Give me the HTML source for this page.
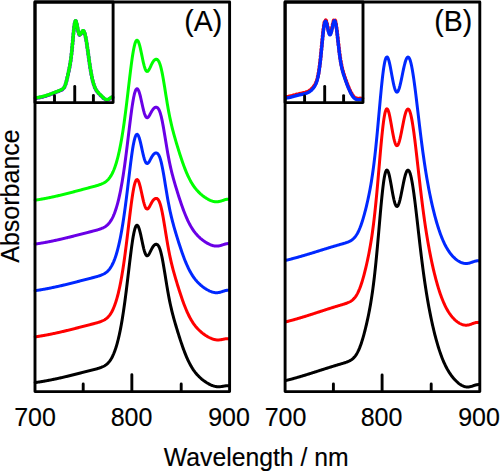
<!DOCTYPE html>
<html><head><meta charset="utf-8"><style>
html,body{margin:0;padding:0;background:#fff;width:500px;height:471px;overflow:hidden}
svg{display:block}
text{font-family:"Liberation Sans",sans-serif;fill:#000;stroke:#000;stroke-width:0.15px}
</style></head><body>
<svg width="500" height="471" viewBox="0 0 500 471">
<rect x="0" y="0" width="500" height="471" fill="#fff"/>
<g fill="none" stroke-linejoin="round" stroke-linecap="round" stroke-width="3.0">
<path d="M35.20,382.57L35.70,382.50L36.20,382.43L36.70,382.36L37.20,382.28L37.70,382.21L38.20,382.13L38.70,382.06L39.20,381.98L39.70,381.90L40.20,381.82L40.70,381.74L41.20,381.66L41.70,381.58L42.20,381.50L42.70,381.41L43.20,381.33L43.70,381.24L44.20,381.16L44.70,381.07L45.20,380.98L45.70,380.89L46.20,380.80L46.70,380.71L47.20,380.62L47.70,380.52L48.20,380.43L48.70,380.34L49.20,380.24L49.70,380.14L50.20,380.05L50.70,379.95L51.20,379.85L51.70,379.75L52.20,379.65L52.70,379.55L53.20,379.44L53.70,379.34L54.20,379.24L54.70,379.13L55.20,379.03L55.70,378.92L56.20,378.81L56.70,378.71L57.20,378.60L57.70,378.49L58.20,378.38L58.70,378.27L59.20,378.16L59.70,378.05L60.20,377.93L60.70,377.82L61.20,377.71L61.70,377.59L62.20,377.48L62.70,377.36L63.20,377.25L63.70,377.13L64.20,377.01L64.70,376.90L65.20,376.78L65.70,376.66L66.20,376.54L66.70,376.42L67.20,376.30L67.70,376.18L68.20,376.06L68.70,375.94L69.20,375.81L69.70,375.69L70.20,375.57L70.70,375.45L71.20,375.32L71.70,375.20L72.20,375.07L72.70,374.95L73.20,374.82L73.70,374.70L74.20,374.57L74.70,374.45L75.20,374.32L75.70,374.20L76.20,374.07L76.70,373.94L77.20,373.82L77.70,373.69L78.20,373.56L78.70,373.44L79.20,373.31L79.70,373.18L80.20,373.06L80.70,372.93L81.20,372.80L81.70,372.67L82.20,372.55L82.70,372.42L83.20,372.29L83.70,372.16L84.20,372.04L84.70,371.91L85.20,371.78L85.70,371.66L86.20,371.53L86.70,371.40L87.20,371.28L87.70,371.15L88.20,371.02L88.70,370.90L89.20,370.77L89.70,370.64L90.20,370.52L90.70,370.39L91.20,370.26L91.70,370.14L92.20,370.01L92.70,369.88L93.20,369.76L93.70,369.63L94.20,369.50L94.70,369.37L95.20,369.23L95.70,369.10L96.20,368.97L96.70,368.83L97.20,368.69L97.70,368.54L98.20,368.39L98.70,368.24L99.20,368.08L99.70,367.92L100.20,367.75L100.70,367.57L101.20,367.38L101.70,367.18L102.20,366.97L102.70,366.75L103.20,366.51L103.70,366.25L104.20,365.98L104.70,365.68L105.20,365.36L105.70,365.02L106.20,364.65L106.70,364.25L107.20,363.81L107.70,363.34L108.20,362.83L108.70,362.28L109.20,361.69L109.70,361.04L110.20,360.35L110.70,359.60L111.20,358.79L111.70,357.92L112.20,356.99L112.70,355.99L113.20,354.91L113.70,353.77L114.20,352.54L114.70,351.23L115.20,349.84L115.70,348.36L116.20,346.79L116.70,345.12L117.20,343.35L117.70,341.48L118.20,339.50L118.70,337.41L119.20,335.21L119.70,332.89L120.20,330.45L120.70,327.89L121.20,325.20L121.70,322.38L122.20,319.43L122.70,316.35L123.20,313.13L123.70,309.78L124.20,306.30L124.70,302.70L125.20,298.97L125.70,295.13L126.20,291.19L126.70,287.16L127.20,283.05L127.70,278.88L128.20,274.68L128.70,270.46L129.20,266.25L129.70,262.07L130.20,257.97L130.70,253.96L131.20,250.09L131.70,246.38L132.20,242.87L132.70,239.60L133.20,236.60L133.70,233.90L134.20,231.53L134.70,229.51L135.20,227.86L135.70,226.61L136.20,225.75L136.70,225.31L137.20,225.27L137.70,225.62L138.20,226.36L138.70,227.45L139.20,228.88L139.70,230.59L140.20,232.55L140.70,234.71L141.20,237.00L141.70,239.38L142.20,241.79L142.70,244.15L143.20,246.41L143.70,248.52L144.20,250.43L144.70,252.08L145.20,253.45L145.70,254.51L146.20,255.26L146.70,255.68L147.20,255.80L147.70,255.64L148.20,255.22L148.70,254.59L149.20,253.80L149.70,252.88L150.20,251.89L150.70,250.86L151.20,249.84L151.70,248.86L152.20,247.95L152.70,247.11L153.20,246.38L153.70,245.74L154.20,245.21L154.70,244.80L155.20,244.49L155.70,244.31L156.20,244.25L156.70,244.32L157.20,244.55L157.70,244.94L158.20,245.51L158.70,246.28L159.20,247.27L159.70,248.48L160.20,249.94L160.70,251.64L161.20,253.58L161.70,255.76L162.20,258.15L162.70,260.74L163.20,263.49L163.70,266.39L164.20,269.39L164.70,272.47L165.20,275.58L165.70,278.71L166.20,281.81L166.70,284.87L167.20,287.86L167.70,290.76L168.20,293.57L168.70,296.27L169.20,298.87L169.70,301.35L170.20,303.73L170.70,306.01L171.20,308.20L171.70,310.30L172.20,312.32L172.70,314.28L173.20,316.17L173.70,318.02L174.20,319.83L174.70,321.59L175.20,323.33L175.70,325.04L176.20,326.73L176.70,328.40L177.20,330.05L177.70,331.69L178.20,333.30L178.70,334.90L179.20,336.49L179.70,338.05L180.20,339.60L180.70,341.12L181.20,342.62L181.70,344.10L182.20,345.55L182.70,346.98L183.20,348.37L183.70,349.74L184.20,351.08L184.70,352.39L185.20,353.66L185.70,354.90L186.20,356.11L186.70,357.29L187.20,358.43L187.70,359.54L188.20,360.61L188.70,361.65L189.20,362.66L189.70,363.63L190.20,364.57L190.70,365.48L191.20,366.36L191.70,367.20L192.20,368.02L192.70,368.81L193.20,369.56L193.70,370.30L194.20,371.00L194.70,371.68L195.20,372.34L195.70,372.97L196.20,373.58L196.70,374.16L197.20,374.73L197.70,375.28L198.20,375.81L198.70,376.32L199.20,376.81L199.70,377.29L200.20,377.75L200.70,378.20L201.20,378.63L201.70,379.06L202.20,379.47L202.70,379.86L203.20,380.25L203.70,380.63L204.20,380.99L204.70,381.35L205.20,381.69L205.70,382.03L206.20,382.36L206.70,382.68L207.20,382.98L207.70,383.28L208.20,383.57L208.70,383.85L209.20,384.12L209.70,384.38L210.20,384.63L210.70,384.86L211.20,385.09L211.70,385.30L212.20,385.50L212.70,385.69L213.20,385.86L213.70,386.02L214.20,386.16L214.70,386.29L215.20,386.40L215.70,386.50L216.20,386.58L216.70,386.65L217.20,386.70L217.70,386.73L218.20,386.75L218.70,386.75L219.20,386.74L219.70,386.71L220.20,386.67L220.70,386.62L221.20,386.56L221.70,386.49L222.20,386.41L222.70,386.33L223.20,386.24L223.70,386.15L224.20,386.07L224.70,385.99L225.20,385.91L225.70,385.85L226.20,385.79L226.70,385.76L227.20,385.74L227.70,385.74L228.20,385.76L228.70,385.81L229.20,385.89" stroke="#000000"/><path d="M35.20,336.87L35.70,336.80L36.20,336.72L36.70,336.65L37.20,336.57L37.70,336.50L38.20,336.42L38.70,336.34L39.20,336.26L39.70,336.18L40.20,336.10L40.70,336.02L41.20,335.94L41.70,335.85L42.20,335.77L42.70,335.68L43.20,335.59L43.70,335.51L44.20,335.42L44.70,335.33L45.20,335.24L45.70,335.14L46.20,335.05L46.70,334.96L47.20,334.86L47.70,334.77L48.20,334.67L48.70,334.58L49.20,334.48L49.70,334.38L50.20,334.28L50.70,334.18L51.20,334.08L51.70,333.98L52.20,333.87L52.70,333.77L53.20,333.66L53.70,333.56L54.20,333.45L54.70,333.35L55.20,333.24L55.70,333.13L56.20,333.02L56.70,332.91L57.20,332.80L57.70,332.69L58.20,332.58L58.70,332.47L59.20,332.35L59.70,332.24L60.20,332.12L60.70,332.01L61.20,331.89L61.70,331.78L62.20,331.66L62.70,331.54L63.20,331.42L63.70,331.31L64.20,331.19L64.70,331.07L65.20,330.95L65.70,330.83L66.20,330.70L66.70,330.58L67.20,330.46L67.70,330.34L68.20,330.21L68.70,330.09L69.20,329.97L69.70,329.84L70.20,329.72L70.70,329.59L71.20,329.47L71.70,329.34L72.20,329.21L72.70,329.09L73.20,328.96L73.70,328.83L74.20,328.71L74.70,328.58L75.20,328.45L75.70,328.32L76.20,328.19L76.70,328.07L77.20,327.94L77.70,327.81L78.20,327.68L78.70,327.55L79.20,327.42L79.70,327.29L80.20,327.16L80.70,327.03L81.20,326.90L81.70,326.77L82.20,326.64L82.70,326.52L83.20,326.39L83.70,326.26L84.20,326.13L84.70,326.00L85.20,325.87L85.70,325.74L86.20,325.61L86.70,325.48L87.20,325.35L87.70,325.22L88.20,325.10L88.70,324.97L89.20,324.84L89.70,324.71L90.20,324.58L90.70,324.45L91.20,324.33L91.70,324.20L92.20,324.07L92.70,323.94L93.20,323.81L93.70,323.68L94.20,323.55L94.70,323.41L95.20,323.28L95.70,323.14L96.20,323.01L96.70,322.87L97.20,322.72L97.70,322.58L98.20,322.43L98.70,322.27L99.20,322.11L99.70,321.95L100.20,321.77L100.70,321.59L101.20,321.40L101.70,321.20L102.20,320.99L102.70,320.76L103.20,320.52L103.70,320.26L104.20,319.99L104.70,319.69L105.20,319.37L105.70,319.03L106.20,318.65L106.70,318.25L107.20,317.82L107.70,317.34L108.20,316.83L108.70,316.28L109.20,315.69L109.70,315.04L110.20,314.35L110.70,313.60L111.20,312.79L111.70,311.92L112.20,310.99L112.70,309.99L113.20,308.92L113.70,307.77L114.20,306.55L114.70,305.25L115.20,303.86L115.70,302.38L116.20,300.81L116.70,299.14L117.20,297.38L117.70,295.51L118.20,293.54L118.70,291.46L119.20,289.26L119.70,286.95L120.20,284.52L120.70,281.96L121.20,279.28L121.70,276.47L122.20,273.53L122.70,270.45L123.20,267.24L123.70,263.91L124.20,260.44L124.70,256.84L125.20,253.13L125.70,249.30L126.20,245.37L126.70,241.35L127.20,237.26L127.70,233.11L128.20,228.91L128.70,224.70L129.20,220.51L129.70,216.35L130.20,212.25L130.70,208.26L131.20,204.40L131.70,200.70L132.20,197.21L132.70,193.95L133.20,190.95L133.70,188.26L134.20,185.89L134.70,183.87L135.20,182.23L135.70,180.97L136.20,180.11L136.70,179.65L137.20,179.60L137.70,179.93L138.20,180.65L138.70,181.71L139.20,183.09L139.70,184.76L140.20,186.67L140.70,188.76L141.20,190.99L141.70,193.29L142.20,195.62L142.70,197.90L143.20,200.07L143.70,202.10L144.20,203.92L144.70,205.50L145.20,206.80L145.70,207.81L146.20,208.51L146.70,208.91L147.20,209.02L147.70,208.86L148.20,208.46L148.70,207.87L149.20,207.12L149.70,206.27L150.20,205.34L150.70,204.39L151.20,203.45L151.70,202.55L152.20,201.70L152.70,200.94L153.20,200.27L153.70,199.69L154.20,199.21L154.70,198.84L155.20,198.57L155.70,198.41L156.20,198.38L156.70,198.47L157.20,198.70L157.70,199.10L158.20,199.68L158.70,200.45L159.20,201.43L159.70,202.65L160.20,204.10L160.70,205.79L161.20,207.73L161.70,209.89L162.20,212.27L162.70,214.85L163.20,217.59L163.70,220.47L164.20,223.46L164.70,226.52L165.20,229.62L165.70,232.73L166.20,235.82L166.70,238.87L167.20,241.84L167.70,244.73L168.20,247.53L168.70,250.22L169.20,252.80L169.70,255.28L170.20,257.64L170.70,259.91L171.20,262.09L171.70,264.18L172.20,266.19L172.70,268.13L173.20,270.02L173.70,271.86L174.20,273.65L174.70,275.41L175.20,277.14L175.70,278.84L176.20,280.52L176.70,282.18L177.20,283.83L177.70,285.45L178.20,287.06L178.70,288.65L179.20,290.23L179.70,291.78L180.20,293.32L180.70,294.83L181.20,296.33L181.70,297.80L182.20,299.24L182.70,300.66L183.20,302.05L183.70,303.41L184.20,304.74L184.70,306.04L185.20,307.31L185.70,308.54L186.20,309.74L186.70,310.91L187.20,312.04L187.70,313.14L188.20,314.21L188.70,315.25L189.20,316.25L189.70,317.21L190.20,318.15L190.70,319.05L191.20,319.92L191.70,320.76L192.20,321.57L192.70,322.35L193.20,323.11L193.70,323.83L194.20,324.53L194.70,325.21L195.20,325.86L195.70,326.48L196.20,327.09L196.70,327.67L197.20,328.23L197.70,328.77L198.20,329.30L198.70,329.80L199.20,330.29L199.70,330.77L200.20,331.23L200.70,331.67L201.20,332.10L201.70,332.52L202.20,332.92L202.70,333.32L203.20,333.70L203.70,334.07L204.20,334.43L204.70,334.78L205.20,335.13L205.70,335.46L206.20,335.78L206.70,336.09L207.20,336.40L207.70,336.69L208.20,336.97L208.70,337.25L209.20,337.51L209.70,337.76L210.20,338.00L210.70,338.23L211.20,338.45L211.70,338.65L212.20,338.85L212.70,339.02L213.20,339.19L213.70,339.34L214.20,339.47L214.70,339.59L215.20,339.69L215.70,339.78L216.20,339.85L216.70,339.90L217.20,339.93L217.70,339.95L218.20,339.95L218.70,339.94L219.20,339.91L219.70,339.87L220.20,339.81L220.70,339.75L221.20,339.67L221.70,339.58L222.20,339.48L222.70,339.38L223.20,339.28L223.70,339.18L224.20,339.08L224.70,338.98L225.20,338.89L225.70,338.81L226.20,338.75L226.70,338.70L227.20,338.67L227.70,338.66L228.20,338.68L228.70,338.72L229.20,338.79" stroke="#ff0000"/><path d="M35.20,290.67L35.70,290.60L36.20,290.52L36.70,290.45L37.20,290.37L37.70,290.30L38.20,290.22L38.70,290.14L39.20,290.06L39.70,289.98L40.20,289.90L40.70,289.81L41.20,289.73L41.70,289.64L42.20,289.56L42.70,289.47L43.20,289.38L43.70,289.29L44.20,289.21L44.70,289.11L45.20,289.02L45.70,288.93L46.20,288.84L46.70,288.74L47.20,288.65L47.70,288.55L48.20,288.46L48.70,288.36L49.20,288.26L49.70,288.16L50.20,288.06L50.70,287.96L51.20,287.86L51.70,287.76L52.20,287.65L52.70,287.55L53.20,287.44L53.70,287.34L54.20,287.23L54.70,287.12L55.20,287.02L55.70,286.91L56.20,286.80L56.70,286.69L57.20,286.58L57.70,286.47L58.20,286.35L58.70,286.24L59.20,286.13L59.70,286.01L60.20,285.90L60.70,285.78L61.20,285.67L61.70,285.55L62.20,285.43L62.70,285.31L63.20,285.20L63.70,285.08L64.20,284.96L64.70,284.84L65.20,284.72L65.70,284.59L66.20,284.47L66.70,284.35L67.20,284.23L67.70,284.10L68.20,283.98L68.70,283.86L69.20,283.73L69.70,283.61L70.20,283.48L70.70,283.36L71.20,283.23L71.70,283.10L72.20,282.98L72.70,282.85L73.20,282.72L73.70,282.60L74.20,282.47L74.70,282.34L75.20,282.21L75.70,282.08L76.20,281.96L76.70,281.83L77.20,281.70L77.70,281.57L78.20,281.44L78.70,281.31L79.20,281.18L79.70,281.05L80.20,280.92L80.70,280.79L81.20,280.66L81.70,280.53L82.20,280.40L82.70,280.27L83.20,280.14L83.70,280.01L84.20,279.89L84.70,279.76L85.20,279.63L85.70,279.50L86.20,279.37L86.70,279.24L87.20,279.11L87.70,278.98L88.20,278.85L88.70,278.72L89.20,278.59L89.70,278.47L90.20,278.34L90.70,278.21L91.20,278.08L91.70,277.95L92.20,277.82L92.70,277.69L93.20,277.56L93.70,277.43L94.20,277.30L94.70,277.16L95.20,277.03L95.70,276.89L96.20,276.76L96.70,276.62L97.20,276.47L97.70,276.33L98.20,276.18L98.70,276.02L99.20,275.86L99.70,275.70L100.20,275.52L100.70,275.34L101.20,275.15L101.70,274.95L102.20,274.74L102.70,274.51L103.20,274.27L103.70,274.02L104.20,273.74L104.70,273.45L105.20,273.13L105.70,272.78L106.20,272.41L106.70,272.01L107.20,271.58L107.70,271.11L108.20,270.60L108.70,270.05L109.20,269.46L109.70,268.82L110.20,268.13L110.70,267.38L111.20,266.58L111.70,265.72L112.20,264.79L112.70,263.80L113.20,262.74L113.70,261.60L114.20,260.38L114.70,259.09L115.20,257.70L115.70,256.24L116.20,254.68L116.70,253.02L117.20,251.27L117.70,249.42L118.20,247.46L118.70,245.39L119.20,243.21L119.70,240.92L120.20,238.50L120.70,235.96L121.20,233.30L121.70,230.51L122.20,227.59L122.70,224.54L123.20,221.35L123.70,218.04L124.20,214.59L124.70,211.03L125.20,207.34L125.70,203.54L126.20,199.64L126.70,195.65L127.20,191.58L127.70,187.46L128.20,183.30L128.70,179.12L129.20,174.95L129.70,170.82L130.20,166.76L130.70,162.80L131.20,158.96L131.70,155.30L132.20,151.83L132.70,148.59L133.20,145.62L133.70,142.94L134.20,140.59L134.70,138.58L135.20,136.95L135.70,135.70L136.20,134.85L136.70,134.39L137.20,134.34L137.70,134.67L138.20,135.38L138.70,136.43L139.20,137.80L139.70,139.45L140.20,141.34L140.70,143.42L141.20,145.63L141.70,147.92L142.20,150.22L142.70,152.48L143.20,154.64L143.70,156.65L144.20,158.46L144.70,160.02L145.20,161.31L145.70,162.31L146.20,163.00L146.70,163.40L147.20,163.51L147.70,163.35L148.20,162.95L148.70,162.37L149.20,161.62L149.70,160.77L150.20,159.85L150.70,158.91L151.20,157.97L151.70,157.07L152.20,156.24L152.70,155.48L153.20,154.81L153.70,154.23L154.20,153.76L154.70,153.39L155.20,153.12L155.70,152.96L156.20,152.92L156.70,153.01L157.20,153.25L157.70,153.64L158.20,154.21L158.70,154.97L159.20,155.95L159.70,157.16L160.20,158.60L160.70,160.27L161.20,162.19L161.70,164.34L162.20,166.70L162.70,169.25L163.20,171.97L163.70,174.83L164.20,177.80L164.70,180.83L165.20,183.91L165.70,187.00L166.20,190.06L166.70,193.08L167.20,196.03L167.70,198.90L168.20,201.67L168.70,204.34L169.20,206.90L169.70,209.36L170.20,211.71L170.70,213.95L171.20,216.11L171.70,218.18L172.20,220.18L172.70,222.11L173.20,223.98L173.70,225.80L174.20,227.58L174.70,229.33L175.20,231.04L175.70,232.73L176.20,234.40L176.70,236.04L177.20,237.67L177.70,239.28L178.20,240.88L178.70,242.46L179.20,244.02L179.70,245.56L180.20,247.08L180.70,248.59L181.20,250.07L181.70,251.52L182.20,252.96L182.70,254.36L183.20,255.74L183.70,257.09L184.20,258.41L184.70,259.69L185.20,260.95L185.70,262.17L186.20,263.37L186.70,264.52L187.20,265.65L187.70,266.74L188.20,267.80L188.70,268.82L189.20,269.81L189.70,270.77L190.20,271.70L190.70,272.59L191.20,273.45L191.70,274.29L192.20,275.09L192.70,275.87L193.20,276.61L193.70,277.33L194.20,278.02L194.70,278.69L195.20,279.34L195.70,279.96L196.20,280.55L196.70,281.13L197.20,281.69L197.70,282.22L198.20,282.74L198.70,283.24L199.20,283.73L199.70,284.20L200.20,284.65L200.70,285.09L201.20,285.51L201.70,285.93L202.20,286.33L202.70,286.71L203.20,287.09L203.70,287.46L204.20,287.81L204.70,288.16L205.20,288.49L205.70,288.82L206.20,289.13L206.70,289.43L207.20,289.73L207.70,290.01L208.20,290.28L208.70,290.54L209.20,290.79L209.70,291.03L210.20,291.25L210.70,291.46L211.20,291.66L211.70,291.84L212.20,292.01L212.70,292.16L213.20,292.30L213.70,292.41L214.20,292.51L214.70,292.59L215.20,292.65L215.70,292.69L216.20,292.72L216.70,292.72L217.20,292.70L217.70,292.66L218.20,292.61L218.70,292.53L219.20,292.44L219.70,292.34L220.20,292.21L220.70,292.08L221.20,291.93L221.70,291.77L222.20,291.61L222.70,291.44L223.20,291.28L223.70,291.11L224.20,290.95L224.70,290.79L225.20,290.65L225.70,290.52L226.20,290.41L226.70,290.32L227.20,290.25L227.70,290.22L228.20,290.21L228.70,290.24L229.20,290.30" stroke="#0028ff"/><path d="M35.20,244.07L35.70,244.00L36.20,243.92L36.70,243.85L37.20,243.77L37.70,243.70L38.20,243.62L38.70,243.54L39.20,243.46L39.70,243.38L40.20,243.30L40.70,243.22L41.20,243.13L41.70,243.05L42.20,242.97L42.70,242.88L43.20,242.79L43.70,242.70L44.20,242.61L44.70,242.53L45.20,242.43L45.70,242.34L46.20,242.25L46.70,242.16L47.20,242.06L47.70,241.97L48.20,241.87L48.70,241.77L49.20,241.68L49.70,241.58L50.20,241.48L50.70,241.38L51.20,241.28L51.70,241.18L52.20,241.07L52.70,240.97L53.20,240.86L53.70,240.76L54.20,240.65L54.70,240.55L55.20,240.44L55.70,240.33L56.20,240.22L56.70,240.11L57.20,240.00L57.70,239.89L58.20,239.78L58.70,239.67L59.20,239.56L59.70,239.44L60.20,239.33L60.70,239.21L61.20,239.10L61.70,238.98L62.20,238.87L62.70,238.75L63.20,238.63L63.70,238.51L64.20,238.39L64.70,238.27L65.20,238.15L65.70,238.03L66.20,237.91L66.70,237.79L67.20,237.67L67.70,237.55L68.20,237.42L68.70,237.30L69.20,237.18L69.70,237.05L70.20,236.93L70.70,236.80L71.20,236.68L71.70,236.55L72.20,236.43L72.70,236.30L73.20,236.18L73.70,236.05L74.20,235.92L74.70,235.80L75.20,235.67L75.70,235.54L76.20,235.41L76.70,235.28L77.20,235.16L77.70,235.03L78.20,234.90L78.70,234.77L79.20,234.64L79.70,234.51L80.20,234.39L80.70,234.26L81.20,234.13L81.70,234.00L82.20,233.87L82.70,233.74L83.20,233.61L83.70,233.48L84.20,233.36L84.70,233.23L85.20,233.10L85.70,232.97L86.20,232.84L86.70,232.71L87.20,232.58L87.70,232.46L88.20,232.33L88.70,232.20L89.20,232.07L89.70,231.94L90.20,231.82L90.70,231.69L91.20,231.56L91.70,231.43L92.20,231.30L92.70,231.17L93.20,231.05L93.70,230.92L94.20,230.78L94.70,230.65L95.20,230.52L95.70,230.38L96.20,230.25L96.70,230.11L97.20,229.97L97.70,229.82L98.20,229.67L98.70,229.52L99.20,229.36L99.70,229.19L100.20,229.02L100.70,228.84L101.20,228.65L101.70,228.45L102.20,228.24L102.70,228.02L103.20,227.78L103.70,227.53L104.20,227.25L104.70,226.96L105.20,226.64L105.70,226.30L106.20,225.93L106.70,225.53L107.20,225.10L107.70,224.64L108.20,224.13L108.70,223.59L109.20,223.00L109.70,222.36L110.20,221.67L110.70,220.93L111.20,220.14L111.70,219.28L112.20,218.36L112.70,217.37L113.20,216.32L113.70,215.18L114.20,213.98L114.70,212.69L115.20,211.32L115.70,209.86L116.20,208.31L116.70,206.67L117.20,204.93L117.70,203.08L118.20,201.14L118.70,199.08L119.20,196.92L119.70,194.64L120.20,192.24L120.70,189.72L121.20,187.07L121.70,184.30L122.20,181.39L122.70,178.36L123.20,175.20L123.70,171.90L124.20,168.48L124.70,164.94L125.20,161.27L125.70,157.50L126.20,153.62L126.70,149.66L127.20,145.62L127.70,141.52L128.20,137.39L128.70,133.24L129.20,129.10L129.70,124.99L130.20,120.96L130.70,117.02L131.20,113.21L131.70,109.56L132.20,106.12L132.70,102.90L133.20,99.95L133.70,97.29L134.20,94.95L134.70,92.96L135.20,91.33L135.70,90.09L136.20,89.25L136.70,88.79L137.20,88.74L137.70,89.07L138.20,89.77L138.70,90.82L139.20,92.18L139.70,93.82L140.20,95.70L140.70,97.77L141.20,99.96L141.70,102.23L142.20,104.52L142.70,106.77L143.20,108.91L143.70,110.91L144.20,112.70L144.70,114.26L145.20,115.54L145.70,116.53L146.20,117.22L146.70,117.61L147.20,117.72L147.70,117.56L148.20,117.17L148.70,116.59L149.20,115.85L149.70,115.01L150.20,114.09L150.70,113.15L151.20,112.22L151.70,111.33L152.20,110.50L152.70,109.74L153.20,109.08L153.70,108.51L154.20,108.04L154.70,107.67L155.20,107.40L155.70,107.24L156.20,107.21L156.70,107.30L157.20,107.53L157.70,107.92L158.20,108.48L158.70,109.24L159.20,110.22L159.70,111.41L160.20,112.84L160.70,114.51L161.20,116.42L161.70,118.55L162.20,120.89L162.70,123.43L163.20,126.13L163.70,128.97L164.20,131.92L164.70,134.94L165.20,138.00L165.70,141.06L166.20,144.11L166.70,147.11L167.20,150.04L167.70,152.89L168.20,155.64L168.70,158.30L169.20,160.84L169.70,163.28L170.20,165.61L170.70,167.85L171.20,169.99L171.70,172.05L172.20,174.03L172.70,175.95L173.20,177.81L173.70,179.62L174.20,181.39L174.70,183.12L175.20,184.82L175.70,186.50L176.20,188.16L176.70,189.79L177.20,191.41L177.70,193.01L178.20,194.60L178.70,196.17L179.20,197.72L179.70,199.25L180.20,200.76L180.70,202.26L181.20,203.73L181.70,205.18L182.20,206.60L182.70,208.00L183.20,209.36L183.70,210.70L184.20,212.01L184.70,213.29L185.20,214.54L185.70,215.76L186.20,216.94L186.70,218.09L187.20,219.21L187.70,220.30L188.20,221.35L188.70,222.36L189.20,223.35L189.70,224.30L190.20,225.22L190.70,226.11L191.20,226.97L191.70,227.80L192.20,228.59L192.70,229.36L193.20,230.10L193.70,230.82L194.20,231.51L194.70,232.17L195.20,232.81L195.70,233.43L196.20,234.02L196.70,234.59L197.20,235.15L197.70,235.68L198.20,236.20L198.70,236.69L199.20,237.17L199.70,237.64L200.20,238.09L200.70,238.53L201.20,238.95L201.70,239.36L202.20,239.76L202.70,240.14L203.20,240.52L203.70,240.88L204.20,241.23L204.70,241.58L205.20,241.91L205.70,242.23L206.20,242.54L206.70,242.84L207.20,243.14L207.70,243.42L208.20,243.69L208.70,243.95L209.20,244.19L209.70,244.43L210.20,244.65L210.70,244.86L211.20,245.06L211.70,245.24L212.20,245.41L212.70,245.56L213.20,245.69L213.70,245.80L214.20,245.90L214.70,245.98L215.20,246.04L215.70,246.08L216.20,246.11L216.70,246.11L217.20,246.09L217.70,246.05L218.20,246.00L218.70,245.93L219.20,245.84L219.70,245.73L220.20,245.61L220.70,245.47L221.20,245.33L221.70,245.17L222.20,245.01L222.70,244.84L223.20,244.68L223.70,244.51L224.20,244.35L224.70,244.19L225.20,244.05L225.70,243.92L226.20,243.81L226.70,243.72L227.20,243.66L227.70,243.62L228.20,243.62L228.70,243.65L229.20,243.71" stroke="#6a00e6"/><path d="M35.20,200.17L35.70,200.09L36.20,200.02L36.70,199.94L37.20,199.86L37.70,199.78L38.20,199.70L38.70,199.62L39.20,199.53L39.70,199.45L40.20,199.36L40.70,199.28L41.20,199.19L41.70,199.10L42.20,199.01L42.70,198.92L43.20,198.83L43.70,198.74L44.20,198.65L44.70,198.56L45.20,198.46L45.70,198.37L46.20,198.27L46.70,198.17L47.20,198.07L47.70,197.97L48.20,197.87L48.70,197.77L49.20,197.67L49.70,197.57L50.20,197.46L50.70,197.36L51.20,197.25L51.70,197.15L52.20,197.04L52.70,196.93L53.20,196.83L53.70,196.72L54.20,196.61L54.70,196.50L55.20,196.38L55.70,196.27L56.20,196.16L56.70,196.04L57.20,195.93L57.70,195.81L58.20,195.70L58.70,195.58L59.20,195.46L59.70,195.35L60.20,195.23L60.70,195.11L61.20,194.99L61.70,194.87L62.20,194.75L62.70,194.62L63.20,194.50L63.70,194.38L64.20,194.26L64.70,194.13L65.20,194.01L65.70,193.88L66.20,193.76L66.70,193.63L67.20,193.50L67.70,193.38L68.20,193.25L68.70,193.12L69.20,192.99L69.70,192.86L70.20,192.73L70.70,192.60L71.20,192.47L71.70,192.34L72.20,192.21L72.70,192.08L73.20,191.95L73.70,191.82L74.20,191.69L74.70,191.56L75.20,191.42L75.70,191.29L76.20,191.16L76.70,191.03L77.20,190.89L77.70,190.76L78.20,190.63L78.70,190.49L79.20,190.36L79.70,190.23L80.20,190.09L80.70,189.96L81.20,189.82L81.70,189.69L82.20,189.56L82.70,189.42L83.20,189.29L83.70,189.15L84.20,189.02L84.70,188.89L85.20,188.75L85.70,188.62L86.20,188.49L86.70,188.35L87.20,188.22L87.70,188.09L88.20,187.95L88.70,187.82L89.20,187.69L89.70,187.56L90.20,187.42L90.70,187.29L91.20,187.16L91.70,187.02L92.20,186.89L92.70,186.76L93.20,186.62L93.70,186.49L94.20,186.35L94.70,186.21L95.20,186.08L95.70,185.94L96.20,185.79L96.70,185.65L97.20,185.50L97.70,185.35L98.20,185.20L98.70,185.04L99.20,184.87L99.70,184.70L100.20,184.52L100.70,184.34L101.20,184.14L101.70,183.94L102.20,183.72L102.70,183.49L103.20,183.24L103.70,182.97L104.20,182.69L104.70,182.39L105.20,182.06L105.70,181.71L106.20,181.33L106.70,180.92L107.20,180.47L107.70,179.99L108.20,179.47L108.70,178.91L109.20,178.30L109.70,177.65L110.20,176.94L110.70,176.18L111.20,175.36L111.70,174.48L112.20,173.53L112.70,172.51L113.20,171.42L113.70,170.26L114.20,169.01L114.70,167.69L115.20,166.28L115.70,164.78L116.20,163.18L116.70,161.49L117.20,159.70L117.70,157.80L118.20,155.80L118.70,153.69L119.20,151.46L119.70,149.11L120.20,146.64L120.70,144.05L121.20,141.33L121.70,138.47L122.20,135.49L122.70,132.37L123.20,129.11L123.70,125.72L124.20,122.21L124.70,118.56L125.20,114.79L125.70,110.91L126.20,106.92L126.70,102.84L127.20,98.69L127.70,94.47L128.20,90.22L128.70,85.95L129.20,81.69L129.70,77.47L130.20,73.32L130.70,69.27L131.20,65.35L131.70,61.60L132.20,58.05L132.70,54.75L133.20,51.71L133.70,48.97L134.20,46.57L134.70,44.53L135.20,42.86L135.70,41.59L136.20,40.73L136.70,40.28L137.20,40.24L137.70,40.60L138.20,41.35L138.70,42.46L139.20,43.91L139.70,45.65L140.20,47.65L140.70,49.84L141.20,52.19L141.70,54.62L142.20,57.07L142.70,59.49L143.20,61.81L143.70,63.97L144.20,65.93L144.70,67.62L145.20,69.03L145.70,70.13L146.20,70.89L146.70,71.33L147.20,71.45L147.70,71.27L148.20,70.83L148.70,70.18L149.20,69.34L149.70,68.38L150.20,67.34L150.70,66.26L151.20,65.19L151.70,64.16L152.20,63.19L152.70,62.31L153.20,61.53L153.70,60.86L154.20,60.29L154.70,59.85L155.20,59.52L155.70,59.31L156.20,59.23L156.70,59.29L157.20,59.50L157.70,59.89L158.20,60.45L158.70,61.22L159.20,62.21L159.70,63.44L160.20,64.90L160.70,66.61L161.20,68.57L161.70,70.76L162.20,73.17L162.70,75.78L163.20,78.56L163.70,81.48L164.20,84.50L164.70,87.61L165.20,90.75L165.70,93.90L166.20,97.03L166.70,100.11L167.20,103.13L167.70,106.06L168.20,108.89L168.70,111.61L169.20,114.23L169.70,116.73L170.20,119.13L170.70,121.43L171.20,123.63L171.70,125.75L172.20,127.79L172.70,129.76L173.20,131.67L173.70,133.53L174.20,135.35L174.70,137.13L175.20,138.88L175.70,140.60L176.20,142.30L176.70,143.98L177.20,145.64L177.70,147.29L178.20,148.92L178.70,150.53L179.20,152.12L179.70,153.70L180.20,155.25L180.70,156.79L181.20,158.30L181.70,159.79L182.20,161.25L182.70,162.68L183.20,164.09L183.70,165.47L184.20,166.81L184.70,168.13L185.20,169.41L185.70,170.66L186.20,171.87L186.70,173.06L187.20,174.20L187.70,175.32L188.20,176.40L188.70,177.44L189.20,178.45L189.70,179.43L190.20,180.38L190.70,181.29L191.20,182.17L191.70,183.02L192.20,183.84L192.70,184.63L193.20,185.39L193.70,186.12L194.20,186.83L194.70,187.51L195.20,188.17L195.70,188.80L196.20,189.41L196.70,190.00L197.20,190.56L197.70,191.11L198.20,191.64L198.70,192.15L199.20,192.64L199.70,193.12L200.20,193.58L200.70,194.03L201.20,194.46L201.70,194.88L202.20,195.29L202.70,195.69L203.20,196.07L203.70,196.44L204.20,196.80L204.70,197.16L205.20,197.50L205.70,197.83L206.20,198.15L206.70,198.45L207.20,198.75L207.70,199.04L208.20,199.32L208.70,199.58L209.20,199.84L209.70,200.08L210.20,200.31L210.70,200.52L211.20,200.72L211.70,200.90L212.20,201.07L212.70,201.23L213.20,201.36L213.70,201.48L214.20,201.58L214.70,201.66L215.20,201.72L215.70,201.76L216.20,201.78L216.70,201.79L217.20,201.77L217.70,201.73L218.20,201.67L218.70,201.59L219.20,201.50L219.70,201.39L220.20,201.26L220.70,201.12L221.20,200.97L221.70,200.81L222.20,200.64L222.70,200.47L223.20,200.29L223.70,200.12L224.20,199.95L224.70,199.80L225.20,199.65L225.70,199.51L226.20,199.40L226.70,199.31L227.20,199.24L227.70,199.20L228.20,199.19L228.70,199.22L229.20,199.28" stroke="#00ff00"/><path d="M285.40,380.65L285.90,380.52L286.40,380.40L286.90,380.27L287.40,380.15L287.90,380.02L288.40,379.89L288.90,379.76L289.40,379.63L289.90,379.50L290.40,379.37L290.90,379.24L291.40,379.10L291.90,378.97L292.40,378.83L292.90,378.70L293.40,378.56L293.90,378.42L294.40,378.28L294.90,378.14L295.40,378.00L295.90,377.86L296.40,377.72L296.90,377.58L297.40,377.43L297.90,377.29L298.40,377.14L298.90,377.00L299.40,376.85L299.90,376.70L300.40,376.56L300.90,376.41L301.40,376.26L301.90,376.11L302.40,375.96L302.90,375.81L303.40,375.66L303.90,375.51L304.40,375.35L304.90,375.20L305.40,375.05L305.90,374.89L306.40,374.74L306.90,374.58L307.40,374.43L307.90,374.27L308.40,374.12L308.90,373.96L309.40,373.80L309.90,373.64L310.40,373.49L310.90,373.33L311.40,373.17L311.90,373.01L312.40,372.85L312.90,372.69L313.40,372.53L313.90,372.37L314.40,372.21L314.90,372.05L315.40,371.89L315.90,371.73L316.40,371.57L316.90,371.41L317.40,371.25L317.90,371.09L318.40,370.93L318.90,370.77L319.40,370.61L319.90,370.44L320.40,370.28L320.90,370.12L321.40,369.96L321.90,369.80L322.40,369.64L322.90,369.48L323.40,369.32L323.90,369.16L324.40,369.00L324.90,368.84L325.40,368.68L325.90,368.52L326.40,368.36L326.90,368.20L327.40,368.04L327.90,367.88L328.40,367.72L328.90,367.56L329.40,367.41L329.90,367.25L330.40,367.09L330.90,366.94L331.40,366.78L331.90,366.63L332.40,366.47L332.90,366.32L333.40,366.16L333.90,366.01L334.40,365.86L334.90,365.70L335.40,365.55L335.90,365.40L336.40,365.25L336.90,365.10L337.40,364.95L337.90,364.80L338.40,364.66L338.90,364.51L339.40,364.36L339.90,364.21L340.40,364.07L340.90,363.92L341.40,363.77L341.90,363.62L342.40,363.47L342.90,363.32L343.40,363.17L343.90,363.02L344.40,362.86L344.90,362.70L345.40,362.54L345.90,362.37L346.40,362.20L346.90,362.01L347.40,361.82L347.90,361.62L348.40,361.41L348.90,361.19L349.40,360.95L349.90,360.69L350.40,360.41L350.90,360.10L351.40,359.78L351.90,359.42L352.40,359.03L352.90,358.61L353.40,358.14L353.90,357.64L354.40,357.09L354.90,356.49L355.40,355.84L355.90,355.13L356.40,354.36L356.90,353.53L357.40,352.63L357.90,351.67L358.40,350.64L358.90,349.53L359.40,348.36L359.90,347.11L360.40,345.79L360.90,344.39L361.40,342.92L361.90,341.38L362.40,339.77L362.90,338.10L363.40,336.35L363.90,334.55L364.40,332.68L364.90,330.75L365.40,328.75L365.90,326.70L366.40,324.58L366.90,322.41L367.40,320.16L367.90,317.84L368.40,315.44L368.90,312.96L369.40,310.38L369.90,307.69L370.40,304.89L370.90,301.95L371.40,298.87L371.90,295.63L372.40,292.21L372.90,288.61L373.40,284.81L373.90,280.80L374.40,276.57L374.90,272.13L375.40,267.47L375.90,262.59L376.40,257.51L376.90,252.25L377.40,246.81L377.90,241.24L378.40,235.57L378.90,229.83L379.40,224.06L379.90,218.33L380.40,212.68L380.90,207.16L381.40,201.84L381.90,196.77L382.40,192.00L382.90,187.60L383.40,183.62L383.90,180.08L384.40,177.05L384.90,174.54L385.40,172.58L385.90,171.17L386.40,170.33L386.90,170.04L387.40,170.28L387.90,171.03L388.40,172.25L388.90,173.89L389.40,175.89L389.90,178.20L390.40,180.75L390.90,183.47L391.40,186.29L391.90,189.14L392.40,191.95L392.90,194.65L393.40,197.19L393.90,199.50L394.40,201.54L394.90,203.27L395.40,204.64L395.90,205.64L396.40,206.25L396.90,206.47L397.40,206.29L397.90,205.72L398.40,204.79L398.90,203.51L399.40,201.93L399.90,200.07L400.40,197.98L400.90,195.70L401.40,193.28L401.90,190.77L402.40,188.23L402.90,185.69L403.40,183.21L403.90,180.84L404.40,178.61L404.90,176.58L405.40,174.77L405.90,173.23L406.40,171.98L406.90,171.04L407.40,170.44L407.90,170.18L408.40,170.29L408.90,170.76L409.40,171.59L409.90,172.78L410.40,174.33L410.90,176.22L411.40,178.44L411.90,180.97L412.40,183.78L412.90,186.87L413.40,190.20L413.90,193.74L414.40,197.48L414.90,201.39L415.40,205.43L415.90,209.60L416.40,213.85L416.90,218.17L417.40,222.54L417.90,226.92L418.40,231.31L418.90,235.69L419.40,240.03L419.90,244.33L420.40,248.58L420.90,252.75L421.40,256.85L421.90,260.86L422.40,264.79L422.90,268.62L423.40,272.35L423.90,275.99L424.40,279.52L424.90,282.96L425.40,286.30L425.90,289.55L426.40,292.70L426.90,295.76L427.40,298.74L427.90,301.62L428.40,304.43L428.90,307.16L429.40,309.81L429.90,312.40L430.40,314.91L430.90,317.35L431.40,319.73L431.90,322.05L432.40,324.31L432.90,326.51L433.40,328.66L433.90,330.75L434.40,332.78L434.90,334.77L435.40,336.70L435.90,338.58L436.40,340.41L436.90,342.19L437.40,343.92L437.90,345.61L438.40,347.25L438.90,348.84L439.40,350.38L439.90,351.88L440.40,353.33L440.90,354.74L441.40,356.10L441.90,357.42L442.40,358.70L442.90,359.94L443.40,361.14L443.90,362.29L444.40,363.41L444.90,364.49L445.40,365.53L445.90,366.54L446.40,367.51L446.90,368.45L447.40,369.36L447.90,370.23L448.40,371.08L448.90,371.89L449.40,372.68L449.90,373.44L450.40,374.18L450.90,374.89L451.40,375.57L451.90,376.24L452.40,376.88L452.90,377.50L453.40,378.10L453.90,378.68L454.40,379.24L454.90,379.78L455.40,380.30L455.90,380.81L456.40,381.30L456.90,381.77L457.40,382.22L457.90,382.65L458.40,383.07L458.90,383.47L459.40,383.85L459.90,384.21L460.40,384.55L460.90,384.88L461.40,385.18L461.90,385.46L462.40,385.72L462.90,385.96L463.40,386.17L463.90,386.36L464.40,386.53L464.90,386.67L465.40,386.79L465.90,386.88L466.40,386.95L466.90,386.99L467.40,387.01L467.90,387.00L468.40,386.97L468.90,386.92L469.40,386.85L469.90,386.75L470.40,386.64L470.90,386.51L471.40,386.37L471.90,386.22L472.40,386.05L472.90,385.88L473.40,385.71L473.90,385.54L474.40,385.37L474.90,385.21L475.40,385.06L475.90,384.93L476.40,384.81L476.90,384.71L477.40,384.64L477.90,384.59L478.40,384.58L478.90,384.60L479.40,384.65" stroke="#000000"/><path d="M285.40,321.95L285.90,321.83L286.40,321.70L286.90,321.57L287.40,321.44L287.90,321.31L288.40,321.18L288.90,321.05L289.40,320.92L289.90,320.79L290.40,320.66L290.90,320.52L291.40,320.39L291.90,320.25L292.40,320.11L292.90,319.97L293.40,319.84L293.90,319.70L294.40,319.55L294.90,319.41L295.40,319.27L295.90,319.13L296.40,318.98L296.90,318.84L297.40,318.70L297.90,318.55L298.40,318.40L298.90,318.26L299.40,318.11L299.90,317.96L300.40,317.81L300.90,317.66L301.40,317.51L301.90,317.36L302.40,317.21L302.90,317.05L303.40,316.90L303.90,316.75L304.40,316.59L304.90,316.44L305.40,316.28L305.90,316.13L306.40,315.97L306.90,315.81L307.40,315.66L307.90,315.50L308.40,315.34L308.90,315.18L309.40,315.02L309.90,314.86L310.40,314.70L310.90,314.54L311.40,314.38L311.90,314.22L312.40,314.06L312.90,313.90L313.40,313.74L313.90,313.58L314.40,313.42L314.90,313.25L315.40,313.09L315.90,312.93L316.40,312.77L316.90,312.60L317.40,312.44L317.90,312.28L318.40,312.11L318.90,311.95L319.40,311.79L319.90,311.62L320.40,311.46L320.90,311.30L321.40,311.14L321.90,310.97L322.40,310.81L322.90,310.65L323.40,310.48L323.90,310.32L324.40,310.16L324.90,310.00L325.40,309.84L325.90,309.67L326.40,309.51L326.90,309.35L327.40,309.19L327.90,309.03L328.40,308.87L328.90,308.71L329.40,308.55L329.90,308.39L330.40,308.23L330.90,308.08L331.40,307.92L331.90,307.76L332.40,307.60L332.90,307.45L333.40,307.29L333.90,307.14L334.40,306.98L334.90,306.83L335.40,306.68L335.90,306.52L336.40,306.37L336.90,306.22L337.40,306.07L337.90,305.92L338.40,305.77L338.90,305.62L339.40,305.47L339.90,305.32L340.40,305.17L340.90,305.02L341.40,304.87L341.90,304.72L342.40,304.57L342.90,304.42L343.40,304.27L343.90,304.11L344.40,303.95L344.90,303.79L345.40,303.63L345.90,303.46L346.40,303.28L346.90,303.10L347.40,302.90L347.90,302.70L348.40,302.49L348.90,302.26L349.40,302.01L349.90,301.75L350.40,301.47L350.90,301.16L351.40,300.83L351.90,300.47L352.40,300.08L352.90,299.65L353.40,299.18L353.90,298.67L354.40,298.11L354.90,297.50L355.40,296.84L355.90,296.13L356.40,295.35L356.90,294.51L357.40,293.60L357.90,292.63L358.40,291.58L358.90,290.47L359.40,289.28L359.90,288.01L360.40,286.67L360.90,285.26L361.40,283.78L361.90,282.22L362.40,280.59L362.90,278.89L363.40,277.13L363.90,275.30L364.40,273.41L364.90,271.45L365.40,269.44L365.90,267.36L366.40,265.22L366.90,263.01L367.40,260.74L367.90,258.39L368.40,255.97L368.90,253.46L369.40,250.84L369.90,248.13L370.40,245.29L370.90,242.32L371.40,239.20L371.90,235.92L372.40,232.46L372.90,228.82L373.40,224.97L373.90,220.91L374.40,216.64L374.90,212.14L375.40,207.42L375.90,202.49L376.40,197.35L376.90,192.02L377.40,186.53L377.90,180.89L378.40,175.15L378.90,169.34L379.40,163.51L379.90,157.70L380.40,151.98L380.90,146.40L381.40,141.01L381.90,135.88L382.40,131.06L382.90,126.61L383.40,122.58L383.90,119.00L384.40,115.93L384.90,113.39L385.40,111.40L385.90,109.98L386.40,109.13L386.90,108.84L387.40,109.08L387.90,109.84L388.40,111.07L388.90,112.73L389.40,114.76L389.90,117.10L390.40,119.67L390.90,122.43L391.40,125.28L391.90,128.16L392.40,131.01L392.90,133.74L393.40,136.31L393.90,138.65L394.40,140.71L394.90,142.46L395.40,143.85L395.90,144.86L396.40,145.48L396.90,145.70L397.40,145.52L397.90,144.94L398.40,144.00L398.90,142.71L399.40,141.11L399.90,139.22L400.40,137.11L400.90,134.80L401.40,132.36L401.90,129.82L402.40,127.24L402.90,124.67L403.40,122.17L403.90,119.76L404.40,117.51L404.90,115.46L405.40,113.63L405.90,112.07L406.40,110.80L406.90,109.85L407.40,109.24L407.90,108.98L408.40,109.09L408.90,109.56L409.40,110.41L409.90,111.62L410.40,113.18L410.90,115.09L411.40,117.34L411.90,119.90L412.40,122.75L412.90,125.87L413.40,129.23L413.90,132.82L414.40,136.61L414.90,140.56L415.40,144.65L415.90,148.87L416.40,153.17L416.90,157.54L417.40,161.96L417.90,166.40L418.40,170.84L418.90,175.27L419.40,179.66L419.90,184.02L420.40,188.31L420.90,192.53L421.40,196.68L421.90,200.74L422.40,204.71L422.90,208.59L423.40,212.36L423.90,216.04L424.40,219.62L424.90,223.10L425.40,226.48L425.90,229.76L426.40,232.95L426.90,236.05L427.40,239.06L427.90,241.98L428.40,244.82L428.90,247.58L429.40,250.26L429.90,252.87L430.40,255.41L430.90,257.89L431.40,260.29L431.90,262.64L432.40,264.92L432.90,267.15L433.40,269.31L433.90,271.42L434.40,273.48L434.90,275.48L435.40,277.43L435.90,279.33L436.40,281.18L436.90,282.97L437.40,284.72L437.90,286.41L438.40,288.06L438.90,289.66L439.40,291.21L439.90,292.72L440.40,294.17L440.90,295.59L441.40,296.95L441.90,298.27L442.40,299.55L442.90,300.78L443.40,301.97L443.90,303.12L444.40,304.23L444.90,305.29L445.40,306.32L445.90,307.31L446.40,308.27L446.90,309.18L447.40,310.06L447.90,310.91L448.40,311.73L448.90,312.51L449.40,313.27L449.90,313.99L450.40,314.68L450.90,315.35L451.40,315.99L451.90,316.61L452.40,317.20L452.90,317.76L453.40,318.31L453.90,318.83L454.40,319.33L454.90,319.80L455.40,320.26L455.90,320.70L456.40,321.11L456.90,321.51L457.40,321.89L457.90,322.25L458.40,322.58L458.90,322.90L459.40,323.20L459.90,323.48L460.40,323.74L460.90,323.98L461.40,324.20L461.90,324.40L462.40,324.57L462.90,324.73L463.40,324.86L463.90,324.97L464.40,325.06L464.90,325.12L465.40,325.17L465.90,325.18L466.40,325.18L466.90,325.15L467.40,325.11L467.90,325.04L468.40,324.95L468.90,324.84L469.40,324.72L469.90,324.58L470.40,324.42L470.90,324.26L471.40,324.08L471.90,323.90L472.40,323.71L472.90,323.53L473.40,323.35L473.90,323.17L474.40,323.00L474.90,322.84L475.40,322.70L475.90,322.58L476.40,322.49L476.90,322.42L477.40,322.38L477.90,322.37L478.40,322.40L478.90,322.47L479.40,322.58" stroke="#ff0000"/><path d="M285.40,260.44L285.90,260.32L286.40,260.20L286.90,260.08L287.40,259.96L287.90,259.84L288.40,259.71L288.90,259.59L289.40,259.46L289.90,259.33L290.40,259.21L290.90,259.08L291.40,258.95L291.90,258.82L292.40,258.69L292.90,258.56L293.40,258.42L293.90,258.29L294.40,258.16L294.90,258.02L295.40,257.89L295.90,257.75L296.40,257.61L296.90,257.47L297.40,257.34L297.90,257.20L298.40,257.06L298.90,256.92L299.40,256.77L299.90,256.63L300.40,256.49L300.90,256.35L301.40,256.20L301.90,256.06L302.40,255.91L302.90,255.77L303.40,255.62L303.90,255.47L304.40,255.33L304.90,255.18L305.40,255.03L305.90,254.88L306.40,254.73L306.90,254.58L307.40,254.43L307.90,254.28L308.40,254.13L308.90,253.98L309.40,253.83L309.90,253.68L310.40,253.52L310.90,253.37L311.40,253.22L311.90,253.06L312.40,252.91L312.90,252.76L313.40,252.60L313.90,252.45L314.40,252.29L314.90,252.14L315.40,251.98L315.90,251.83L316.40,251.67L316.90,251.52L317.40,251.36L317.90,251.21L318.40,251.05L318.90,250.90L319.40,250.74L319.90,250.58L320.40,250.43L320.90,250.27L321.40,250.12L321.90,249.96L322.40,249.81L322.90,249.65L323.40,249.49L323.90,249.34L324.40,249.18L324.90,249.03L325.40,248.87L325.90,248.72L326.40,248.57L326.90,248.41L327.40,248.26L327.90,248.11L328.40,247.95L328.90,247.80L329.40,247.65L329.90,247.50L330.40,247.35L330.90,247.19L331.40,247.04L331.90,246.89L332.40,246.74L332.90,246.60L333.40,246.45L333.90,246.30L334.40,246.15L334.90,246.00L335.40,245.86L335.90,245.71L336.40,245.57L336.90,245.42L337.40,245.28L337.90,245.13L338.40,244.99L338.90,244.85L339.40,244.71L339.90,244.56L340.40,244.42L340.90,244.28L341.40,244.14L341.90,243.99L342.40,243.85L342.90,243.70L343.40,243.56L343.90,243.41L344.40,243.26L344.90,243.10L345.40,242.95L345.90,242.78L346.40,242.61L346.90,242.44L347.40,242.25L347.90,242.06L348.40,241.86L348.90,241.64L349.40,241.41L349.90,241.16L350.40,240.89L350.90,240.59L351.40,240.28L351.90,239.93L352.40,239.56L352.90,239.15L353.40,238.70L353.90,238.21L354.40,237.68L354.90,237.10L355.40,236.47L355.90,235.79L356.40,235.04L356.90,234.24L357.40,233.38L357.90,232.44L358.40,231.45L358.90,230.38L359.40,229.24L359.90,228.04L360.40,226.76L360.90,225.41L361.40,223.99L361.90,222.50L362.40,220.95L362.90,219.33L363.40,217.64L363.90,215.90L364.40,214.09L364.90,212.23L365.40,210.30L365.90,208.32L366.40,206.27L366.90,204.17L367.40,202.00L367.90,199.76L368.40,197.44L368.90,195.04L369.40,192.55L369.90,189.95L370.40,187.24L370.90,184.40L371.40,181.42L371.90,178.29L372.40,174.99L372.90,171.51L373.40,167.84L373.90,163.96L374.40,159.88L374.90,155.59L375.40,151.08L375.90,146.37L376.40,141.47L376.90,136.38L377.40,131.13L377.90,125.75L378.40,120.26L378.90,114.71L379.40,109.15L379.90,103.61L380.40,98.14L380.90,92.81L381.40,87.67L381.90,82.77L382.40,78.17L382.90,73.92L383.40,70.06L383.90,66.65L384.40,63.72L384.90,61.29L385.40,59.40L385.90,58.04L386.40,57.22L386.90,56.94L387.40,57.18L387.90,57.91L388.40,59.08L388.90,60.66L389.40,62.60L389.90,64.83L390.40,67.29L390.90,69.92L391.40,72.65L391.90,75.40L392.40,78.11L392.90,80.73L393.40,83.18L393.90,85.41L394.40,87.38L394.90,89.05L395.40,90.38L395.90,91.35L396.40,91.94L396.90,92.14L397.40,91.97L397.90,91.42L398.40,90.52L398.90,89.29L399.40,87.76L399.90,85.96L400.40,83.94L400.90,81.74L401.40,79.40L401.90,76.98L402.40,74.52L402.90,72.07L403.40,69.67L403.90,67.38L404.40,65.23L404.90,63.26L405.40,61.52L405.90,60.03L406.40,58.82L406.90,57.91L407.40,57.33L407.90,57.08L408.40,57.18L408.90,57.64L409.40,58.44L409.90,59.60L410.40,61.09L410.90,62.92L411.40,65.06L411.90,67.50L412.40,70.22L412.90,73.20L413.40,76.42L413.90,79.85L414.40,83.46L414.90,87.23L415.40,91.14L415.90,95.17L416.40,99.28L416.90,103.45L417.40,107.67L417.90,111.91L418.40,116.15L418.90,120.38L419.40,124.58L419.90,128.73L420.40,132.83L420.90,136.86L421.40,140.82L421.90,144.70L422.40,148.49L422.90,152.19L423.40,155.80L423.90,159.31L424.40,162.73L424.90,166.05L425.40,169.28L425.90,172.42L426.40,175.46L426.90,178.42L427.40,181.29L427.90,184.08L428.40,186.79L428.90,189.43L429.40,191.99L429.90,194.48L430.40,196.91L430.90,199.27L431.40,201.57L431.90,203.81L432.40,205.99L432.90,208.11L433.40,210.18L433.90,212.20L434.40,214.16L434.90,216.07L435.40,217.93L435.90,219.74L436.40,221.51L436.90,223.22L437.40,224.89L437.90,226.51L438.40,228.08L438.90,229.61L439.40,231.09L439.90,232.53L440.40,233.92L440.90,235.27L441.40,236.57L441.90,237.83L442.40,239.05L442.90,240.23L443.40,241.36L443.90,242.46L444.40,243.52L444.90,244.54L445.40,245.52L445.90,246.46L446.40,247.37L446.90,248.25L447.40,249.09L447.90,249.90L448.40,250.68L448.90,251.42L449.40,252.14L449.90,252.83L450.40,253.50L450.90,254.13L451.40,254.74L451.90,255.33L452.40,255.89L452.90,256.43L453.40,256.95L453.90,257.45L454.40,257.92L454.90,258.38L455.40,258.82L455.90,259.23L456.40,259.63L456.90,260.01L457.40,260.37L457.90,260.71L458.40,261.03L458.90,261.33L459.40,261.62L459.90,261.88L460.40,262.13L460.90,262.36L461.40,262.57L461.90,262.75L462.40,262.92L462.90,263.07L463.40,263.19L463.90,263.30L464.40,263.38L464.90,263.44L465.40,263.48L465.90,263.50L466.40,263.49L466.90,263.47L467.40,263.42L467.90,263.36L468.40,263.27L468.90,263.17L469.40,263.05L469.90,262.91L470.40,262.77L470.90,262.61L471.40,262.44L471.90,262.27L472.40,262.09L472.90,261.91L473.40,261.73L473.90,261.57L474.40,261.40L474.90,261.26L475.40,261.12L475.90,261.01L476.40,260.92L476.90,260.85L477.40,260.81L477.90,260.81L478.40,260.84L478.90,260.90L479.40,261.01" stroke="#0028ff"/>
</g>
<rect x="36.4" y="3.4" width="75.3" height="97.2" fill="#fff"/>
<rect x="286.5" y="3.4" width="75.1" height="97.2" fill="#fff"/>
<g fill="none" stroke-linejoin="round" stroke-linecap="round">
<path d="M35.60,98.14L35.85,98.11L36.10,98.08L36.35,98.04L36.60,98.01L36.85,97.98L37.10,97.94L37.35,97.90L37.60,97.86L37.85,97.82L38.10,97.78L38.35,97.74L38.60,97.70L38.85,97.65L39.10,97.61L39.35,97.56L39.60,97.51L39.85,97.46L40.10,97.41L40.35,97.36L40.60,97.31L40.85,97.25L41.10,97.20L41.35,97.14L41.60,97.08L41.85,97.02L42.10,96.96L42.35,96.90L42.60,96.84L42.85,96.78L43.10,96.71L43.35,96.65L43.60,96.58L43.85,96.51L44.10,96.44L44.35,96.37L44.60,96.30L44.85,96.23L45.10,96.16L45.35,96.09L45.60,96.01L45.85,95.94L46.10,95.86L46.35,95.78L46.60,95.70L46.85,95.62L47.10,95.54L47.35,95.46L47.60,95.38L47.85,95.30L48.10,95.21L48.35,95.13L48.60,95.04L48.85,94.96L49.10,94.87L49.35,94.78L49.60,94.69L49.85,94.60L50.10,94.51L50.35,94.42L50.60,94.33L50.85,94.24L51.10,94.15L51.35,94.05L51.60,93.96L51.85,93.86L52.10,93.77L52.35,93.67L52.60,93.58L52.85,93.48L53.10,93.38L53.35,93.29L53.60,93.19L53.85,93.09L54.10,92.99L54.35,92.89L54.60,92.79L54.85,92.69L55.10,92.59L55.35,92.49L55.60,92.39L55.85,92.29L56.10,92.19L56.35,92.09L56.60,91.99L56.85,91.88L57.10,91.78L57.35,91.68L57.60,91.58L57.85,91.48L58.10,91.38L58.35,91.27L58.60,91.17L58.85,91.07L59.10,90.97L59.35,90.86L59.60,90.76L59.85,90.66L60.10,90.55L60.35,90.45L60.60,90.34L60.85,90.23L61.10,90.11L61.35,89.99L61.60,89.87L61.85,89.73L62.10,89.59L62.35,89.43L62.60,89.25L62.85,89.06L63.10,88.84L63.35,88.59L63.60,88.30L63.85,87.98L64.10,87.61L64.35,87.20L64.60,86.72L64.85,86.19L65.10,85.60L65.35,84.94L65.60,84.21L65.85,83.42L66.10,82.57L66.35,81.65L66.60,80.69L66.85,79.67L67.10,78.62L67.35,77.54L67.60,76.43L67.85,75.31L68.10,74.18L68.35,73.04L68.60,71.90L68.85,70.74L69.10,69.56L69.35,68.36L69.60,67.11L69.85,65.80L70.10,64.40L70.35,62.91L70.60,61.29L70.85,59.52L71.10,57.61L71.35,55.53L71.60,53.28L71.85,50.87L72.10,48.33L72.35,45.66L72.60,42.92L72.85,40.13L73.10,37.35L73.35,34.63L73.60,32.03L73.85,29.60L74.10,27.40L74.35,25.47L74.60,23.86L74.85,22.59L75.10,21.68L75.35,21.13L75.60,20.95L75.85,21.11L76.10,21.59L76.35,22.34L76.60,23.31L76.85,24.46L77.10,25.73L77.35,27.06L77.60,28.40L77.85,29.71L78.10,30.93L78.35,32.03L78.60,32.98L78.85,33.77L79.10,34.37L79.35,34.80L79.60,35.04L79.85,35.12L80.10,35.05L80.35,34.84L80.60,34.53L80.85,34.13L81.10,33.68L81.35,33.20L81.60,32.72L81.85,32.25L82.10,31.83L82.35,31.47L82.60,31.19L82.85,31.00L83.10,30.92L83.35,30.96L83.60,31.12L83.85,31.41L84.10,31.83L84.35,32.38L84.60,33.07L84.85,33.88L85.10,34.82L85.35,35.88L85.60,37.05L85.85,38.33L86.10,39.70L86.35,41.16L86.60,42.70L86.85,44.31L87.10,45.97L87.35,47.69L87.60,49.44L87.85,51.22L88.10,53.01L88.35,54.82L88.60,56.63L88.85,58.42L89.10,60.20L89.35,61.95L89.60,63.68L89.85,65.36L90.10,67.00L90.35,68.60L90.60,70.14L90.85,71.63L91.10,73.05L91.35,74.42L91.60,75.73L91.85,76.98L92.10,78.16L92.35,79.29L92.60,80.35L92.85,81.35L93.10,82.30L93.35,83.18L93.60,84.02L93.85,84.80L94.10,85.54L94.35,86.22L94.60,86.87L94.85,87.47L95.10,88.03L95.35,88.56L95.60,89.05L95.85,89.52L96.10,89.96L96.35,90.37L96.60,90.76L96.85,91.13L97.10,91.48L97.35,91.82L97.60,92.14L97.85,92.45L98.10,92.74L98.35,93.03L98.60,93.31L98.85,93.58L99.10,93.85L99.35,94.11L99.60,94.37L99.85,94.62L100.10,94.87L100.35,95.12L100.60,95.37L100.85,95.61L101.10,95.86L101.35,96.10L101.60,96.34L101.85,96.58L102.10,96.82L102.35,97.05L102.60,97.29L102.85,97.52L103.10,97.74L103.35,97.96L103.60,98.18L103.85,98.39L104.10,98.60L104.35,98.79L104.60,98.98L104.85,99.15L105.10,99.31L105.35,99.46L105.60,99.59L105.85,99.70L106.10,99.79L106.35,99.87L106.60,99.92L106.85,99.95L107.10,99.95L107.35,99.93L107.60,99.89L107.85,99.82L108.10,99.73L108.35,99.61L108.60,99.48L108.85,99.32L109.10,99.15L109.35,98.97L109.60,98.78L109.85,98.58L110.10,98.38L110.35,98.19L110.60,98.01L110.85,97.84L111.10,97.69L111.35,97.58L111.60,97.49L111.85,97.44L112.10,97.43L112.35,97.48L112.60,97.57" stroke="#6a00e6" stroke-width="3.9" stroke-dasharray="1.2 2.2"/><path d="M35.60,97.84L35.85,97.81L36.10,97.78L36.35,97.74L36.60,97.71L36.85,97.68L37.10,97.64L37.35,97.60L37.60,97.56L37.85,97.52L38.10,97.48L38.35,97.44L38.60,97.40L38.85,97.35L39.10,97.31L39.35,97.26L39.60,97.21L39.85,97.16L40.10,97.11L40.35,97.06L40.60,97.01L40.85,96.95L41.10,96.90L41.35,96.84L41.60,96.78L41.85,96.72L42.10,96.66L42.35,96.60L42.60,96.54L42.85,96.48L43.10,96.41L43.35,96.35L43.60,96.28L43.85,96.21L44.10,96.14L44.35,96.07L44.60,96.00L44.85,95.93L45.10,95.86L45.35,95.79L45.60,95.71L45.85,95.64L46.10,95.56L46.35,95.48L46.60,95.40L46.85,95.32L47.10,95.24L47.35,95.16L47.60,95.08L47.85,95.00L48.10,94.91L48.35,94.83L48.60,94.74L48.85,94.66L49.10,94.57L49.35,94.48L49.60,94.39L49.85,94.30L50.10,94.21L50.35,94.12L50.60,94.03L50.85,93.94L51.10,93.85L51.35,93.75L51.60,93.66L51.85,93.56L52.10,93.47L52.35,93.37L52.60,93.28L52.85,93.18L53.10,93.08L53.35,92.99L53.60,92.89L53.85,92.79L54.10,92.69L54.35,92.59L54.60,92.49L54.85,92.39L55.10,92.29L55.35,92.19L55.60,92.09L55.85,91.99L56.10,91.89L56.35,91.79L56.60,91.69L56.85,91.58L57.10,91.48L57.35,91.38L57.60,91.28L57.85,91.18L58.10,91.08L58.35,90.97L58.60,90.87L58.85,90.77L59.10,90.67L59.35,90.56L59.60,90.46L59.85,90.36L60.10,90.25L60.35,90.15L60.60,90.04L60.85,89.93L61.10,89.81L61.35,89.69L61.60,89.57L61.85,89.43L62.10,89.29L62.35,89.13L62.60,88.95L62.85,88.76L63.10,88.54L63.35,88.29L63.60,88.00L63.85,87.68L64.10,87.31L64.35,86.90L64.60,86.42L64.85,85.89L65.10,85.30L65.35,84.64L65.60,83.91L65.85,83.12L66.10,82.27L66.35,81.35L66.60,80.39L66.85,79.37L67.10,78.32L67.35,77.24L67.60,76.13L67.85,75.01L68.10,73.88L68.35,72.74L68.60,71.60L68.85,70.44L69.10,69.26L69.35,68.06L69.60,66.81L69.85,65.50L70.10,64.10L70.35,62.61L70.60,60.99L70.85,59.22L71.10,57.31L71.35,55.23L71.60,52.98L71.85,50.57L72.10,48.03L72.35,45.36L72.60,42.62L72.85,39.83L73.10,37.05L73.35,34.33L73.60,31.73L73.85,29.30L74.10,27.10L74.35,25.17L74.60,23.56L74.85,22.29L75.10,21.38L75.35,20.83L75.60,20.65L75.85,20.81L76.10,21.29L76.35,22.04L76.60,23.01L76.85,24.16L77.10,25.43L77.35,26.76L77.60,28.10L77.85,29.41L78.10,30.63L78.35,31.73L78.60,32.68L78.85,33.47L79.10,34.07L79.35,34.50L79.60,34.74L79.85,34.82L80.10,34.75L80.35,34.54L80.60,34.23L80.85,33.83L81.10,33.38L81.35,32.90L81.60,32.42L81.85,31.95L82.10,31.53L82.35,31.17L82.60,30.89L82.85,30.70L83.10,30.62L83.35,30.66L83.60,30.82L83.85,31.11L84.10,31.53L84.35,32.08L84.60,32.77L84.85,33.58L85.10,34.52L85.35,35.58L85.60,36.75L85.85,38.03L86.10,39.40L86.35,40.86L86.60,42.40L86.85,44.01L87.10,45.67L87.35,47.39L87.60,49.14L87.85,50.92L88.10,52.71L88.35,54.52L88.60,56.33L88.85,58.12L89.10,59.90L89.35,61.65L89.60,63.38L89.85,65.06L90.10,66.70L90.35,68.30L90.60,69.84L90.85,71.33L91.10,72.75L91.35,74.12L91.60,75.43L91.85,76.68L92.10,77.86L92.35,78.99L92.60,80.05L92.85,81.05L93.10,82.00L93.35,82.88L93.60,83.72L93.85,84.50L94.10,85.24L94.35,85.92L94.60,86.57L94.85,87.17L95.10,87.73L95.35,88.26L95.60,88.75L95.85,89.22L96.10,89.66L96.35,90.07L96.60,90.46L96.85,90.83L97.10,91.18L97.35,91.52L97.60,91.84L97.85,92.15L98.10,92.44L98.35,92.73L98.60,93.01L98.85,93.28L99.10,93.55L99.35,93.81L99.60,94.07L99.85,94.32L100.10,94.57L100.35,94.82L100.60,95.07L100.85,95.31L101.10,95.56L101.35,95.80L101.60,96.04L101.85,96.28L102.10,96.52L102.35,96.75L102.60,96.99L102.85,97.22L103.10,97.44L103.35,97.66L103.60,97.88L103.85,98.09L104.10,98.30L104.35,98.49L104.60,98.68L104.85,98.85L105.10,99.01L105.35,99.16L105.60,99.29L105.85,99.40L106.10,99.49L106.35,99.57L106.60,99.62L106.85,99.65L107.10,99.65L107.35,99.63L107.60,99.59L107.85,99.52L108.10,99.43L108.35,99.31L108.60,99.18L108.85,99.02L109.10,98.85L109.35,98.67L109.60,98.48L109.85,98.28L110.10,98.08L110.35,97.89L110.60,97.71L110.85,97.54L111.10,97.39L111.35,97.28L111.60,97.19L111.85,97.14L112.10,97.13L112.35,97.18L112.60,97.27" stroke="#00ff00" stroke-width="3.4"/><path d="M285.90,97.03L286.15,97.01L286.40,96.98L286.65,96.96L286.90,96.92L287.15,96.89L287.40,96.85L287.65,96.82L287.90,96.77L288.15,96.73L288.40,96.69L288.65,96.64L288.90,96.59L289.15,96.54L289.40,96.48L289.65,96.43L289.90,96.37L290.15,96.31L290.40,96.25L290.65,96.19L290.90,96.13L291.15,96.06L291.40,96.00L291.65,95.93L291.90,95.86L292.15,95.79L292.40,95.72L292.65,95.66L292.90,95.59L293.15,95.51L293.40,95.44L293.65,95.37L293.90,95.30L294.15,95.23L294.40,95.16L294.65,95.09L294.90,95.02L295.15,94.95L295.40,94.88L295.65,94.82L295.90,94.75L296.15,94.68L296.40,94.61L296.65,94.55L296.90,94.48L297.15,94.42L297.40,94.36L297.65,94.30L297.90,94.24L298.15,94.18L298.40,94.12L298.65,94.06L298.90,94.00L299.15,93.95L299.40,93.89L299.65,93.84L299.90,93.79L300.15,93.73L300.40,93.68L300.65,93.63L300.90,93.58L301.15,93.53L301.40,93.48L301.65,93.43L301.90,93.37L302.15,93.32L302.40,93.27L302.65,93.22L302.90,93.16L303.15,93.11L303.40,93.05L303.65,93.00L303.90,92.94L304.15,92.88L304.40,92.81L304.65,92.75L304.90,92.68L305.15,92.61L305.40,92.54L305.65,92.46L305.90,92.38L306.15,92.29L306.40,92.21L306.65,92.11L306.90,92.01L307.15,91.91L307.40,91.80L307.65,91.69L307.90,91.57L308.15,91.44L308.40,91.31L308.65,91.18L308.90,91.03L309.15,90.88L309.40,90.72L309.65,90.55L309.90,90.38L310.15,90.20L310.40,90.01L310.65,89.81L310.90,89.60L311.15,89.38L311.40,89.16L311.65,88.92L311.90,88.68L312.15,88.42L312.40,88.16L312.65,87.88L312.90,87.59L313.15,87.29L313.40,86.98L313.65,86.65L313.90,86.31L314.15,85.95L314.40,85.57L314.65,85.17L314.90,84.75L315.15,84.30L315.40,83.82L315.65,83.31L315.90,82.77L316.15,82.17L316.40,81.54L316.65,80.84L316.90,80.09L317.15,79.27L317.40,78.37L317.65,77.40L317.90,76.33L318.15,75.16L318.40,73.89L318.65,72.50L318.90,71.00L319.15,69.38L319.40,67.63L319.65,65.76L319.90,63.76L320.15,61.64L320.40,59.40L320.65,57.05L320.90,54.61L321.15,52.09L321.40,49.51L321.65,46.89L321.90,44.25L322.15,41.62L322.40,39.02L322.65,36.49L322.90,34.05L323.15,31.73L323.40,29.57L323.65,27.59L323.90,25.81L324.15,24.25L324.40,22.94L324.65,21.88L324.90,21.08L325.15,20.55L325.40,20.28L325.65,20.26L325.90,20.49L326.15,20.94L326.40,21.60L326.65,22.42L326.90,23.39L327.15,24.47L327.40,25.62L327.65,26.81L327.90,28.00L328.15,29.16L328.40,30.25L328.65,31.24L328.90,32.10L329.15,32.81L329.40,33.35L329.65,33.70L329.90,33.85L330.15,33.80L330.40,33.55L330.65,33.10L330.90,32.47L331.15,31.67L331.40,30.73L331.65,29.68L331.90,28.53L332.15,27.33L332.40,26.12L332.65,24.91L332.90,23.76L333.15,22.69L333.40,21.74L333.65,20.95L333.90,20.33L334.15,19.92L334.40,19.73L334.65,19.77L334.90,20.06L335.15,20.60L335.40,21.38L335.65,22.40L335.90,23.65L336.15,25.11L336.40,26.76L336.65,28.57L336.90,30.53L337.15,32.60L337.40,34.75L337.65,36.97L337.90,39.22L338.15,41.47L338.40,43.72L338.65,45.93L338.90,48.08L339.15,50.18L339.40,52.19L339.65,54.11L339.90,55.94L340.15,57.68L340.40,59.32L340.65,60.86L340.90,62.31L341.15,63.67L341.40,64.94L341.65,66.14L341.90,67.27L342.15,68.33L342.40,69.34L342.65,70.29L342.90,71.20L343.15,72.08L343.40,72.92L343.65,73.73L343.90,74.52L344.15,75.29L344.40,76.05L344.65,76.79L344.90,77.52L345.15,78.23L345.40,78.94L345.65,79.65L345.90,80.34L346.15,81.03L346.40,81.71L346.65,82.39L346.90,83.05L347.15,83.71L347.40,84.37L347.65,85.01L347.90,85.65L348.15,86.27L348.40,86.89L348.65,87.49L348.90,88.09L349.15,88.67L349.40,89.24L349.65,89.80L349.90,90.34L350.15,90.87L350.40,91.38L350.65,91.88L350.90,92.36L351.15,92.82L351.40,93.27L351.65,93.70L351.90,94.12L352.15,94.51L352.40,94.89L352.65,95.24L352.90,95.58L353.15,95.90L353.40,96.21L353.65,96.49L353.90,96.75L354.15,97.00L354.40,97.22L354.65,97.43L354.90,97.62L355.15,97.79L355.40,97.95L355.65,98.09L355.90,98.21L356.15,98.31L356.40,98.41L356.65,98.48L356.90,98.54L357.15,98.59L357.40,98.63L357.65,98.66L357.90,98.67L358.15,98.68L358.40,98.68L358.65,98.67L358.90,98.65L359.15,98.63L359.40,98.61L359.65,98.58L359.90,98.55L360.15,98.52L360.40,98.49L360.65,98.47L360.90,98.44L361.15,98.43L361.40,98.41L361.65,98.41L361.90,98.41L362.15,98.42L362.40,98.44" stroke="#ff0000" stroke-width="3.9" stroke-dasharray="1.2 2.2"/><path d="M285.90,98.03L286.15,98.01L286.40,97.98L286.65,97.96L286.90,97.92L287.15,97.89L287.40,97.85L287.65,97.82L287.90,97.77L288.15,97.73L288.40,97.69L288.65,97.64L288.90,97.59L289.15,97.54L289.40,97.48L289.65,97.43L289.90,97.37L290.15,97.31L290.40,97.25L290.65,97.19L290.90,97.13L291.15,97.06L291.40,97.00L291.65,96.93L291.90,96.86L292.15,96.79L292.40,96.72L292.65,96.66L292.90,96.59L293.15,96.51L293.40,96.44L293.65,96.37L293.90,96.30L294.15,96.23L294.40,96.16L294.65,96.09L294.90,96.02L295.15,95.95L295.40,95.88L295.65,95.82L295.90,95.75L296.15,95.68L296.40,95.61L296.65,95.55L296.90,95.48L297.15,95.42L297.40,95.36L297.65,95.30L297.90,95.24L298.15,95.18L298.40,95.12L298.65,95.06L298.90,95.00L299.15,94.95L299.40,94.89L299.65,94.84L299.90,94.79L300.15,94.73L300.40,94.68L300.65,94.63L300.90,94.58L301.15,94.53L301.40,94.48L301.65,94.43L301.90,94.37L302.15,94.32L302.40,94.27L302.65,94.22L302.90,94.16L303.15,94.11L303.40,94.05L303.65,94.00L303.90,93.94L304.15,93.88L304.40,93.81L304.65,93.75L304.90,93.68L305.15,93.61L305.40,93.54L305.65,93.46L305.90,93.38L306.15,93.29L306.40,93.21L306.65,93.11L306.90,93.01L307.15,92.91L307.40,92.80L307.65,92.69L307.90,92.57L308.15,92.44L308.40,92.31L308.65,92.18L308.90,92.03L309.15,91.88L309.40,91.72L309.65,91.55L309.90,91.38L310.15,91.20L310.40,91.01L310.65,90.81L310.90,90.60L311.15,90.38L311.40,90.16L311.65,89.92L311.90,89.68L312.15,89.42L312.40,89.16L312.65,88.88L312.90,88.59L313.15,88.29L313.40,87.98L313.65,87.65L313.90,87.31L314.15,86.95L314.40,86.57L314.65,86.17L314.90,85.75L315.15,85.30L315.40,84.82L315.65,84.31L315.90,83.77L316.15,83.17L316.40,82.54L316.65,81.84L316.90,81.09L317.15,80.27L317.40,79.37L317.65,78.40L317.90,77.33L318.15,76.16L318.40,74.89L318.65,73.50L318.90,72.00L319.15,70.38L319.40,68.63L319.65,66.76L319.90,64.76L320.15,62.64L320.40,60.40L320.65,58.05L320.90,55.61L321.15,53.09L321.40,50.51L321.65,47.89L321.90,45.25L322.15,42.62L322.40,40.02L322.65,37.49L322.90,35.05L323.15,32.73L323.40,30.57L323.65,28.59L323.90,26.81L324.15,25.25L324.40,23.94L324.65,22.88L324.90,22.08L325.15,21.55L325.40,21.28L325.65,21.26L325.90,21.49L326.15,21.94L326.40,22.60L326.65,23.42L326.90,24.39L327.15,25.47L327.40,26.62L327.65,27.81L327.90,29.00L328.15,30.16L328.40,31.25L328.65,32.24L328.90,33.10L329.15,33.81L329.40,34.35L329.65,34.70L329.90,34.85L330.15,34.80L330.40,34.55L330.65,34.10L330.90,33.47L331.15,32.67L331.40,31.73L331.65,30.68L331.90,29.53L332.15,28.33L332.40,27.12L332.65,25.91L332.90,24.76L333.15,23.69L333.40,22.74L333.65,21.95L333.90,21.33L334.15,20.92L334.40,20.73L334.65,20.77L334.90,21.06L335.15,21.60L335.40,22.38L335.65,23.40L335.90,24.65L336.15,26.11L336.40,27.76L336.65,29.57L336.90,31.53L337.15,33.60L337.40,35.75L337.65,37.97L337.90,40.22L338.15,42.47L338.40,44.72L338.65,46.93L338.90,49.08L339.15,51.18L339.40,53.19L339.65,55.11L339.90,56.94L340.15,58.68L340.40,60.32L340.65,61.86L340.90,63.31L341.15,64.67L341.40,65.94L341.65,67.14L341.90,68.27L342.15,69.33L342.40,70.34L342.65,71.29L342.90,72.20L343.15,73.08L343.40,73.92L343.65,74.73L343.90,75.52L344.15,76.29L344.40,77.05L344.65,77.79L344.90,78.52L345.15,79.23L345.40,79.94L345.65,80.65L345.90,81.34L346.15,82.03L346.40,82.71L346.65,83.39L346.90,84.05L347.15,84.71L347.40,85.37L347.65,86.01L347.90,86.65L348.15,87.27L348.40,87.89L348.65,88.49L348.90,89.09L349.15,89.67L349.40,90.24L349.65,90.80L349.90,91.34L350.15,91.87L350.40,92.38L350.65,92.88L350.90,93.36L351.15,93.82L351.40,94.27L351.65,94.70L351.90,95.12L352.15,95.51L352.40,95.89L352.65,96.24L352.90,96.58L353.15,96.90L353.40,97.21L353.65,97.49L353.90,97.75L354.15,98.00L354.40,98.22L354.65,98.43L354.90,98.62L355.15,98.79L355.40,98.95L355.65,99.09L355.90,99.21L356.15,99.31L356.40,99.41L356.65,99.48L356.90,99.54L357.15,99.59L357.40,99.63L357.65,99.66L357.90,99.67L358.15,99.68L358.40,99.68L358.65,99.67L358.90,99.65L359.15,99.63L359.40,99.61L359.65,99.58L359.90,99.55L360.15,99.52L360.40,99.49L360.65,99.47L360.90,99.44L361.15,99.43L361.40,99.41L361.65,99.41L361.90,99.41L362.15,99.42L362.40,99.44" stroke="#0028ff" stroke-width="3.4"/>
</g>
<g fill="none" stroke="#000" stroke-width="2.9" stroke-linejoin="round" stroke-linecap="round">
<path d="M83.20,391.60 V384.00" /><path d="M131.85,391.60 V374.80" /><path d="M181.20,391.60 V384.00" /><path d="M333.40,391.60 V384.00" /><path d="M382.10,391.60 V374.90" /><path d="M431.20,391.60 V384.00" /><path d="M54.50,102.60 V95.80" /><path d="M74.75,102.60 V86.40" /><path d="M93.40,102.60 V95.40" /><path d="M304.60,102.60 V96.00" /><path d="M324.70,102.60 V86.50" /><path d="M343.60,102.60 V95.60" />
</g>
<g fill="none" stroke="#000" stroke-width="2.9" stroke-linejoin="round" stroke-linecap="butt">
<path d="M35.00,2.00 H229.60 V391.60 H35.00 Z" /><path d="M285.10,2.00 H479.80 V391.60 H285.10 Z" /><path d="M35.00,2.00 H113.10 V102.60 H35.00 Z" /><path d="M285.10,2.00 H363.00 V102.60 H285.10 Z" />
</g>
<g font-size="25" text-anchor="middle">
<text x="35" y="425.5">700</text>
<text x="131.5" y="425.5">800</text>
<text x="229" y="425.5">900</text>
<text x="285.5" y="425.5">700</text>
<text x="381.5" y="425.5">800</text>
<text x="479" y="425.5">900</text>
<text transform="translate(256.2,465.5) scale(0.99,1)">Wavelength / nm</text>
<text transform="translate(19.3,196) rotate(-90)">Absorbance</text>
</g>
<g font-size="30" text-anchor="middle">
<text transform="translate(203.3,31) scale(0.95,1)">(A)</text>
<text transform="translate(453.3,31) scale(0.95,1)">(B)</text>
</g>
</svg>
</body></html>
